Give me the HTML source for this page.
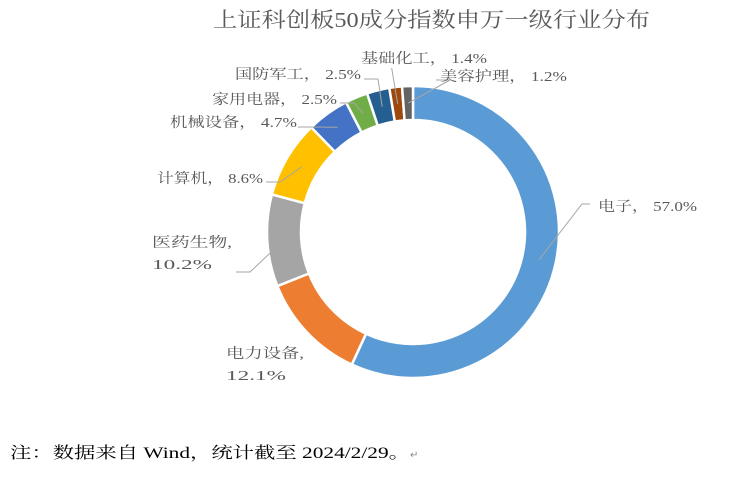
<!DOCTYPE html>
<html><head><meta charset="utf-8">
<style>
body{margin:0;background:#fff;}
svg{display:block;font-family:"Liberation Serif","Noto Serif CJK SC",serif;}
.lbl{font-size:14px;fill:#595959;}
</style></head>
<body>
<svg width="750" height="477" viewBox="0 0 750 477">
<text x="213" y="27" textLength="437" lengthAdjust="spacingAndGlyphs" font-size="21" fill="#595959">上证科创板50成分指数申万一级行业分布</text>
<g id="slices"></g>
<g id="leaders"></g>
<g id="labels"></g>
<text x="10" y="458" font-size="16" fill="#000"><tspan textLength="400" lengthAdjust="spacingAndGlyphs">注：数据来自 Wind，统计截至 2024/2/29。</tspan><tspan font-size="10" fill="#888">↵</tspan></text>
</svg>
<script>
const categories=["电子","电力设备","医药生物","计算机","机械设备","家用电器","国防军工","基础化工","美容护理"];
const values=[57.0,12.1,10.2,8.6,4.7,2.5,2.5,1.4,1.2];
const valueLabels=["57.0%","12.1%","10.2%","8.6%","4.7%","2.5%","2.5%","1.4%","1.2%"];
const colors=["#5b9bd5","#ed7d31","#a5a5a5","#ffc000","#4472c4","#70ad47","#255e91","#9e480e","#636363"];
const cx=413,cy=232,R=146,r=112;
const NS="http://www.w3.org/2000/svg";
const total=values.reduce((a,b)=>a+b,0);
function pt(a,rad){return [cx+rad*Math.sin(a),cy-rad*Math.cos(a)];}
const sl=document.getElementById('slices');
let acc=0;const mids=[];
values.forEach((v,i)=>{
  const a0=acc/total*2*Math.PI;acc+=v;const a1=acc/total*2*Math.PI;
  mids.push((a0+a1)/2);
  const large=(a1-a0)>Math.PI?1:0;
  const p0=pt(a0,R),p1=pt(a1,R),p2=pt(a1,r),p3=pt(a0,r);
  const p=document.createElementNS(NS,'path');
  p.setAttribute('d',`M${p0}A${R},${R} 0 ${large} 1 ${p1}L${p2}A${r},${r} 0 ${large} 0 ${p3}Z`);
  p.setAttribute('fill',colors[i]);p.setAttribute('stroke','#fff');p.setAttribute('stroke-width','2.5');
  
  
  sl.appendChild(p);
});
const layout=[[598,211,590,204,false,99],[226,358,0,0,true,78],[152,247,236,272,true,80],[157,183,266,182,false,106],[170,127,298,127,false,127],[212,104,340,103,false,125],[235,79,364,79,false,126],[361,63,0,0,false,126],[440,81,436,80,false,127]];
const lb=document.getElementById('labels'),ld=document.getElementById('leaders');
categories.forEach((c,i)=>{
  const L=layout[i];
  const t=document.createElementNS(NS,'text');
  t.setAttribute('class','lbl');t.setAttribute('x',L[0]);t.setAttribute('y',L[1]);
  
  
  if(L[4]){
    const t1=document.createElementNS(NS,'tspan');t1.setAttribute('textLength',L[5]);t1.setAttribute('lengthAdjust','spacingAndGlyphs');t1.textContent=c+',';t.appendChild(t1);
    const t2=document.createElementNS(NS,'tspan');t2.setAttribute('x',L[0]);t2.setAttribute('dy','22');t2.setAttribute('textLength','60');t2.setAttribute('lengthAdjust','spacingAndGlyphs');t2.textContent=valueLabels[i];t.appendChild(t2);
  }else{
    t.setAttribute('textLength',L[5]);t.setAttribute('lengthAdjust','spacingAndGlyphs');
    t.textContent=c+'， '+valueLabels[i];
  }
  lb.appendChild(t);
  const m=pt(mids[i],(R+r)/2);
  let sx=L[2],sy=L[3];
  if(i===7){sx=m[0]-6;sy=68;}
  if(i===1)return;
  const pl=document.createElementNS(NS,'polyline');
  const bend=(i===0)?[sx-8,sy]:(i===7?[sx,sy]:[sx+14,sy]);
  pl.setAttribute('points',`${sx},${sy} ${bend} ${m[0]},${m[1]}`);
  pl.setAttribute('fill','none');pl.setAttribute('stroke','#a6a6a6');pl.setAttribute('stroke-width','1');
  
  
  ld.appendChild(pl);
});
</script>
</body></html>
